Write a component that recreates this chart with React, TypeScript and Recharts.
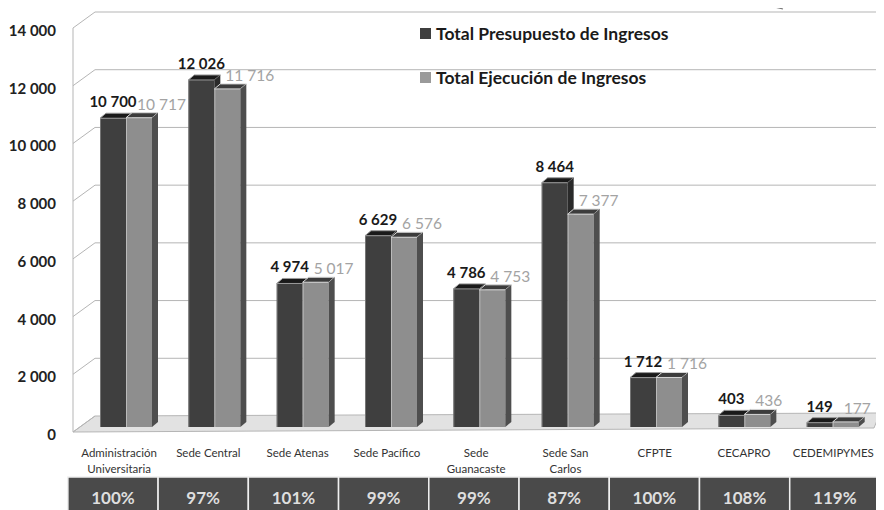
import React from "react";
import { BarChart, Bar, XAxis, YAxis, CartesianGrid, LabelList, Legend } from "recharts";

const categoryLines: string[][] = [
  ["Administración", "Universitaria"],
  ["Sede Central"],
  ["Sede Atenas"],
  ["Sede Pacífico"],
  ["Sede", "Guanacaste"],
  ["Sede San", "Carlos"],
  ["CFPTE"],
  ["CECAPRO"],
  ["CEDEMIPYMES"],
];
const presupuesto = [10700, 12026, 4974, 6629, 4786, 8464, 1712, 403, 149];
const ejecucion = [10717, 11716, 5017, 6576, 4753, 7377, 1716, 436, 177];
const porcentajes = ["100%", "97%", "101%", "99%", "99%", "87%", "100%", "108%", "119%"];
const yTicks = [0, 2000, 4000, 6000, 8000, 10000, 12000, 14000];
const seriesNames = ["Total Presupuesto de Ingresos", "Total Ejecución de Ingresos"];

const data = categoryLines.map((lines, i) => ({
  name: lines.join(" "),
  idx: i,
  presupuesto: presupuesto[i],
  ejecucion: ejecucion[i],
}));

const FONT = "Lato, 'Open Sans', sans-serif";
const fmt = (n: number) => String(n).replace(/\B(?=(\d{3})+(?!\d))/g, " ");

const SHIFT = -3;
const DX = 6;
const DY = 5;

const make3D = (front: string, top: string, side: string, rim: string) => (p: any) => {
  const { x, y, width, height } = p;
  if (width == null || height == null) return <g />;
  const x0 = x + SHIFT;
  const w = width;
  const h = Math.max(height, 0);
  return (
    <g>
      <rect x={x0} y={y} width={w} height={h} fill={front} />
      <polygon
        points={`${x0},${y} ${x0 + DX},${y - DY} ${x0 + w + DX},${y - DY} ${x0 + w},${y}`}
        fill={top}
        stroke={rim}
        strokeWidth={1}
      />
      <polygon
        points={`${x0 + w},${y} ${x0 + w + DX},${y - DY} ${x0 + w + DX},${y + h - DY} ${x0 + w},${y + h}`}
        fill={side}
      />
      <line x1={x0 + 0.5} y1={y} x2={x0 + 0.5} y2={y + h} stroke={rim} strokeWidth={1} opacity={0.6} />
    </g>
  );
};

const darkShape = make3D("#3f3f3f", "#1a1a1a", "#2a2a2a", "#9a9a9a");
const lightShape = make3D("#8e8e8e", "#3c3c3c", "#4e4e4e", "#d8d8d8");

const DarkLabel = (p: any) => {
  const { x, y, width, value } = p;
  return (
    <text
      x={x + SHIFT + width / 2}
      y={y - 17}
      textAnchor="middle"
      dominantBaseline="central"
      fontFamily={FONT}
      fontSize={15}
      fontWeight={700}
      fill="#1a1a1a"
    >
      {fmt(value)}
    </text>
  );
};

const LightLabel = (p: any) => {
  const { x, y, width, value } = p;
  return (
    <text
      x={x + SHIFT + width / 2 - 2}
      y={y - 14}
      textAnchor="start"
      dominantBaseline="central"
      fontFamily={FONT}
      fontSize={15.5}
      fill="#a3a3a3"
    >
      {fmt(value)}
    </text>
  );
};

const YTick = (p: any) => {
  const { y, payload } = p;
  return (
    <text
      x={48}
      y={y + 7}
      textAnchor="end"
      dominantBaseline="central"
      fontFamily={FONT}
      fontSize={15}
      fontWeight={700}
      fill="#222"
    >
      {fmt(payload.value)}
    </text>
  );
};

const XTick = (p: any) => {
  const { x, y, index } = p;
  const lines = categoryLines[index] || [];
  const cellW = 90.2;
  const cellC = 105 + 1.0215 * (x - 121.2);
  const labelC = (cellC + x) / 2 - 2;
  return (
    <g>
      {lines.map((l, k) => (
        <text
          key={k}
          x={labelC}
          y={y + 25 + k * 16}
          textAnchor="middle"
          dominantBaseline="central"
          fontFamily={FONT}
          fontSize={11.5}
          fill="#333"
        >
          {l}
        </text>
      ))}
      <rect x={cellC - cellW / 2} y={y + 50} width={cellW} height={34} fill="#4a4a4a" stroke="#f0f0f0" strokeWidth={1.5} />
      <text
        x={cellC}
        y={y + 70}
        textAnchor="middle"
        dominantBaseline="central"
        fontFamily={FONT}
        fontSize={17}
        fontWeight={700}
        fill="#dedede"
      >
        {porcentajes[index]}
      </text>
    </g>
  );
};

const HLine = (p: any) => {
  const { x1, x2, y1, index } = p;
  const yb = y1 - 11;
  const yf = y1 + 5;
  const isFloor = Math.abs(y1 - 419) < 1;
  return (
    <g key={`h-${index}`}>
      {isFloor && (
        <polygon
          points={`${x1 - 12},${yf} ${x1 + 10},${yb} ${x2},${yb - 3} ${x2 - 6},${yf - 4}`}
          fill="#e2e2e2"
          stroke="#b5b5b5"
          strokeWidth={1}
        />
      )}
      <line x1={x1 - 12} y1={yf} x2={x1 + 10} y2={yb} stroke="#b5b5b5" strokeWidth={1} />
      {!isFloor && <line x1={x1 + 10} y1={yb} x2={x2} y2={yb} stroke="#b5b5b5" strokeWidth={1} />}
    </g>
  );
};

const VLine = (p: any) => {
  const { x1, y1, y2, index } = p;
  return <line key={`v-${index}`} x1={x1 - 12} y1={y1 + 5} x2={x1 - 12} y2={y2 + 5} stroke="#b5b5b5" strokeWidth={1} />;
};

const LegendContent = () => (
  <div style={{ fontFamily: FONT, fontSize: 17.5, fontWeight: 700, color: "#1a1a1a" }}>
    {seriesNames.map((n, i) => (
      <div key={n} style={{ display: "flex", alignItems: "center", height: 22, marginBottom: i === 0 ? 22 : 0, whiteSpace: "nowrap" }}>
        <span
          style={{
            display: "inline-block",
            width: 11,
            height: 11,
            background: i === 0 ? "#3f3f3f" : "#9a9a9a",
            marginRight: 5,
          }}
        />
        <span>{n}</span>
      </div>
    ))}
  </div>
);

export default function App() {
  return (
    <div style={{ width: 876, height: 502, position: "relative" }}>
      <BarChart
        width={876}
        height={502}
        data={data}
        margin={{ top: 15, right: 4, left: 0, bottom: 0 }}
        barGap={0}
        barSize={26}
      >
        <CartesianGrid horizontal={HLine} vertical={VLine} verticalPoints={[77]} />
        <XAxis
          dataKey="name"
          height={83}
          tickSize={0}
          tickMargin={0}
          axisLine={false}
          tickLine={false}
          interval={0}
          tick={<XTick />}
        />
        <YAxis
          width={77}
          domain={[0, 14000]}
          ticks={yTicks}
          axisLine={false}
          tickLine={false}
          tick={<YTick />}
          interval={0}
        />
        <Legend
          layout="horizontal"
          verticalAlign="middle"
          align="center"
          content={<LegendContent />}
          wrapperStyle={{ position: "absolute", top: 14, left: 412, width: 320 }}
        />
        <Bar dataKey="presupuesto" name={seriesNames[0]} fill="#3f3f3f" shape={darkShape} isAnimationActive={false}>
          <LabelList dataKey="presupuesto" content={<DarkLabel />} />
        </Bar>
        <Bar dataKey="ejecucion" name={seriesNames[1]} fill="#8e8e8e" shape={lightShape} isAnimationActive={false}>
          <LabelList dataKey="ejecucion" content={<LightLabel />} />
        </Bar>
      </BarChart>
      <svg style={{ position: "absolute", left: 0, top: 0, pointerEvents: "none" }} width={876} height={502}>
        <line x1={737} y1={-8} x2={775} y2={1} stroke="#777" strokeWidth={1.2} />
      </svg>
    </div>
  );
}
